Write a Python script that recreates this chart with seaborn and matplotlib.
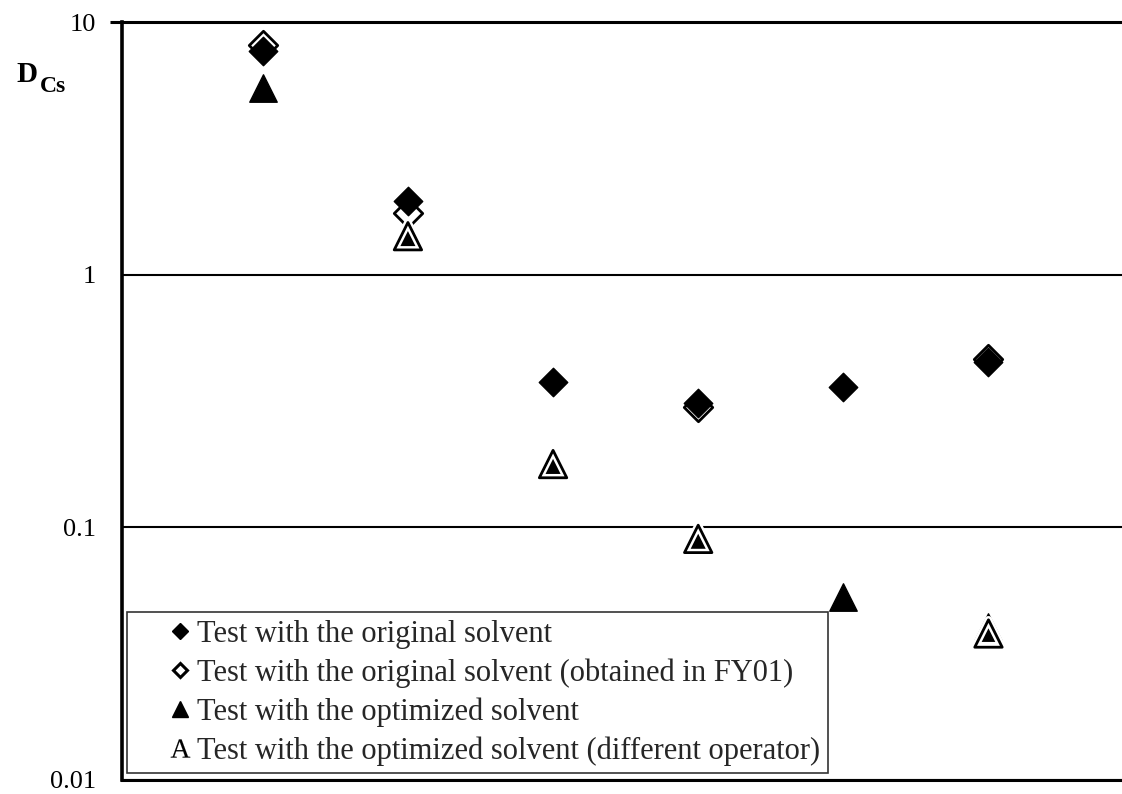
import numpy as np
import matplotlib
matplotlib.use("Agg")
import matplotlib.pyplot as plt
import matplotlib.patheffects as pe
from matplotlib.lines import Line2D
from matplotlib.legend_handler import HandlerLine2D
from matplotlib.ticker import NullLocator, FixedLocator, FixedFormatter
import seaborn as sns

# Distribution ratio of Cs for six successive contacts
contact = [1, 2, 3, 4, 5, 6]
d_original = [7.7, 1.95, 0.376, 0.31, 0.36, 0.45]
d_original_fy01 = [8.1, 1.75, np.nan, 0.30, np.nan, 0.465]
d_optimized = [5.5, 1.42, 0.176, 0.090, 0.053, 0.0405]
d_optimized_other = [np.nan, 1.42, 0.178, 0.090, np.nan, 0.038]

y_ticks = [0.01, 0.1, 1, 10]
y_tick_labels = ["0.01", "0.1", "1", "10"]

legend_labels = [
    "Test with the original solvent",
    "Test with the original solvent (obtained in FY01)",
    "Test with the optimized solvent",
    "Test with the optimized solvent (different operator)",
]

sns.set_theme(style="white")
plt.rcParams["font.family"] = ["Liberation Serif", "DejaVu Serif"]
plt.rcParams["mathtext.fontset"] = "custom"
plt.rcParams["mathtext.rm"] = "Liberation Serif"

fig = plt.figure(figsize=(11.22, 7.94), dpi=100)
ax = fig.add_axes([122 / 1122, 14 / 794, 1000 / 1122, 758 / 794])

# open diamonds beneath, filled diamonds on top
sns.scatterplot(x=contact, y=d_original_fy01, marker="D", s=210, color="white",
                edgecolor="black", linewidth=2.0, zorder=3, ax=ax)
sns.scatterplot(x=contact, y=d_original, marker="D", s=210, color="black",
                edgecolor="black", linewidth=1.0, zorder=4, ax=ax)

# filled triangles beneath, hollow triangles drawn over them
sns.scatterplot(x=contact, y=d_optimized, marker="^", s=390, color="black",
                edgecolor="black", linewidth=1.0, zorder=3, ax=ax)
sns.scatterplot(x=contact, y=d_optimized_other, marker="^", s=390, color="black",
                edgecolor="black", linewidth=2.0, zorder=4, ax=ax,
                path_effects=[pe.Stroke(linewidth=5.5, foreground="white"), pe.Normal()])
ax.collections[-1].set_facecolor("none")

ax.set_yscale("log")
ax.set_ylim(0.01, 10)
ax.set_xlim(0.03, 6.92)
ax.yaxis.set_major_locator(FixedLocator(y_ticks))
ax.yaxis.set_major_formatter(FixedFormatter(y_tick_labels))
ax.yaxis.set_minor_locator(NullLocator())
ax.set_xticks([])
ax.set_xlabel("")
ax.set_ylabel("")

ax.grid(axis="y", which="major", color="black", linewidth=1.5)
ax.grid(axis="x", visible=False)
ax.set_axisbelow(True)

for side in ("top", "bottom"):
    ax.spines[side].set_color("black")
    ax.spines[side].set_linewidth(2.2)
ax.spines["left"].set_color("black")
ax.spines["left"].set_linewidth(2.6)
ax.spines["right"].set_visible(False)

ax.tick_params(axis="y", which="major", left=True, length=8.6, width=2.2,
               color="black", pad=10, labelsize=19, labelcolor="black")
for t in ax.yaxis.get_major_ticks()[:-1]:
    t.tick1line.set_visible(False)


class MarkerRightHandler(HandlerLine2D):
    def get_xdata(self, legend, xdescent, ydescent, width, height, fontsize):
        x = -xdescent + width - 0.42 * fontsize
        return np.array([x, x]), np.array([x])


handles = [
    Line2D([], [], ls="none", marker="D", ms=8.0, color="black", mew=1.0),
    Line2D([], [], ls="none", marker="D", ms=7.5, mfc="white", mec="black", mew=2.2),
    Line2D([], [], ls="none", marker="^", ms=12, color="black"),
    Line2D([], [], ls="none", marker=r"$\mathrm{A}$", ms=14, color="black", mew=0.1),
]
leg = ax.legend(handles, legend_labels, loc="lower left",
                bbox_to_anchor=(0.005, 0.009), fontsize=22,
                handler_map={Line2D: MarkerRightHandler()},
                handlelength=1.9, handletextpad=0.15, labelspacing=0.31,
                borderpad=0.25, borderaxespad=0.0, frameon=True,
                fancybox=False, shadow=False)
leg.get_frame().set_edgecolor("black")
leg.get_frame().set_linewidth(1.2)
leg.get_frame().set_facecolor("white")
leg.set_zorder(5)

fig.text(16 / 1122, 1 - 82 / 794, "D", fontsize=21, fontweight="bold",
         va="baseline", ha="left", color="black")
fig.text(40 / 1122, 1 - 92 / 794, "Cs", fontsize=17, fontweight="bold",
         va="baseline", ha="left", color="black")

fig.savefig("out.png", dpi=100, facecolor="white")
